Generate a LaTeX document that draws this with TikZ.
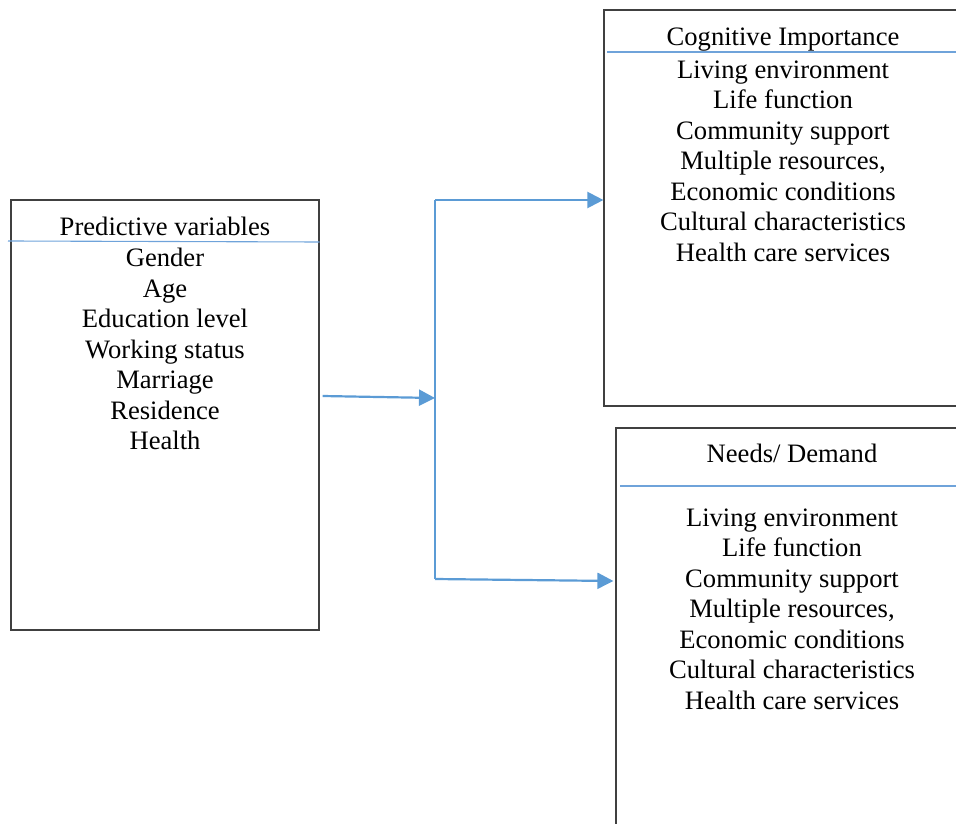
\documentclass[tikz,border=0pt]{standalone}
\usepackage{fontspec}
\setmainfont{Liberation Serif}
\usepackage{tikz}
\usetikzlibrary{arrows.meta, calc, positioning}
\tikzset{>=stealth}
\definecolor{myblue}{HTML}{5B9BD5}
\definecolor{mylightblue}{HTML}{6FA3DA}
\definecolor{mygrey}{HTML}{404040}
\tikzset{
  box/.style={draw=mygrey, line width=0.6pt, inner sep=0pt},
  boxtext/.style={align=center, inner sep=0pt, font=\fontsize{13.3}{15.25}\selectfont},
  divider/.style={mylightblue, line width=0.55pt},
  flow/.style={myblue, line width=1.1pt, -{Triangle[length=8pt,width=8pt]}},
  splitline/.style={myblue, line width=0.6pt}
}

\begin{document}
\begin{tikzpicture}[x=0.5pt, y=-0.5pt]
  \useasboundingbox (0,0) rectangle (956,823);
  \clip (0,0) rectangle (956,823);
  % boxes
  \node[box, minimum width=154pt, minimum height=215pt] (predbox) at (165,415) {};
  \node[box, minimum width=198pt, minimum height=198pt] (cogbox) at (802,208) {};
  \node[box, minimum width=192pt, minimum height=236pt] (needbox) at (808,664) {};
  % titles
  \node[boxtext, anchor=base] (predtitle) at (165,235) {Predictive variables};
  \node[boxtext, anchor=base] (cogtitle) at (783,46) {Cognitive Importance};
  \node[boxtext, anchor=base] (needtitle) at (792,462) {Needs/ Demand};
  \draw[divider] (8,241) -- (predbox.east |- 0,242);
  \draw[divider] (607,52) -- (960,52);
  \draw[divider] (620,486) -- (960,486);
  % lists
  \node[boxtext, anchor=north] (predlist) at (165,248) {Gender\\Age\\Education level\\Working status\\Marriage\\Residence\\Health};
  \node[boxtext, anchor=north] (coglist) at (783,60) {Living environment\\Life function\\Community support\\Multiple resources,\\Economic conditions\\Cultural characteristics\\Health care services};
  \node[boxtext, anchor=north] (needlist) at (792,508) {Living environment\\Life function\\Community support\\Multiple resources,\\Economic conditions\\Cultural characteristics\\Health care services};
  % connectors
  \coordinate (predout) at ([xshift=1.5pt, yshift=9.5pt]predbox.east);
  \coordinate (split) at (435,398);
  \coordinate (splittop) at (435,200);
  \coordinate (splitbot) at (435,579);
  \draw[flow] (predout) -- (split);
  \draw[splitline] (splittop) -- (splitbot);
  \draw[flow] (splittop) -- (cogbox.west |- splittop);
  \draw[flow] (splitbot) -- ([xshift=-1pt]needbox.west |- 0,581);
\end{tikzpicture}
\end{document}
